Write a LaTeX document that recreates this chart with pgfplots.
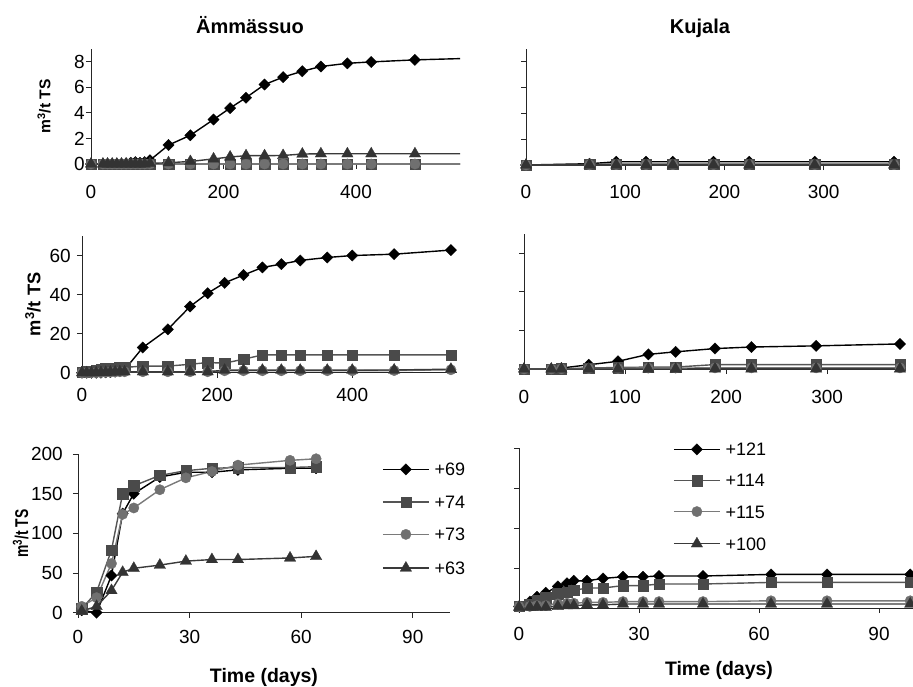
\documentclass[border=0pt]{standalone}
\usepackage{fontspec}
\setmainfont{Liberation Sans}
\usepackage{pgfplots}
\usepackage{pgfplotstable}
\pgfplotsset{compat=1.18}

\definecolor{fS}{HTML}{4A4A4A}
\definecolor{lS}{HTML}{555555}
\definecolor{fC}{HTML}{707070}
\definecolor{lC}{HTML}{7A7A7A}
\definecolor{fT}{HTML}{333333}
\definecolor{lT}{HTML}{3A3A3A}
\definecolor{ax}{HTML}{262626}

% Ämmässuo, long-term run (upper panel)
\pgfplotstableread{
day dia sq ci tri
0   0    0 0 0
18  0    0 0 0
25  0    0 0 0
32  0    0 0 0
39  0    0 0 0
46  0    0 0 0
53  0.05 0 0 0
60  0.1  0 0 0
67  0.15 0 0 0
74  0.1  0 0 0
81  0.15 0 0 0
89  0.3  0 0 0.05
117 1.48 0 0 0.1
150 2.25 0 0 0.2
185 3.48 0 0 0.4
210 4.38 0 0 0.55
234 5.19 0 0 0.65
262 6.22 0 0 0.65
290 6.8  0 0 0.67
319 7.26 0 0 0.78
347 7.63 0 0 0.8
387 7.88 0 0 0.8
423 7.99 0 0 0.8
489 8.15 0 0 0.8
600 8.31 0 0 0.8
}\amA

% Kujala, long-term run (upper panel)
\pgfplotstableread{
day dia sq ci tri
0   0    0    0    0
64  0.1  0.05 0.02 0
91  0.25 0.08 0.03 0
121 0.25 0.08 0.03 0
148 0.25 0.08 0.03 0
189 0.25 0.08 0.03 0
225 0.25 0.08 0.03 0
291 0.25 0.08 0.03 0
371 0.25 0.08 0.03 0
}\kuA

% Ämmässuo, long-term run (middle panel)
\pgfplotstableread{
day dia sq ci tri
0   0    0.3 0   0
7   0    0.5 0   0
14  0    0.8 0   0
21  0    1.0 0   0
28  0    1.5 0.1 0.1
35  0.2  2.0 0.2 0.2
42  0.3  2.0 0.3 0.3
49  0.5  2.3 0.4 0.4
56  0.8  2.5 0.5 0.5
63  1.5  2.7 0.5 0.5
90  12.9 3.4 0.5 0.5
127 22.2 3.4 0.5 0.5
160 33.9 4.3 0.5 0.5
186 40.7 5.2 0.5 0.5
211 46.0 4.9 1.0 1.3
239 50.0 6.9 1.0 1.3
267 53.9 9.1 1.0 1.3
295 55.6 9.1 1.0 1.3
323 57.5 9.1 1.0 1.3
363 59.0 9.1 1.0 1.3
400 60.0 9.1 1.0 1.3
462 60.7 9.1 1.1 1.4
546 62.8 9.1 1.5 1.8
}\amB

% Kujala, long-term run (middle panel)
\pgfplotstableread{
day dia sq ci tri
0   0    0   0   0
27  0    0   0   0
37  0.5  0.2 0.1 0
64  2.2  0.5 0.2 0
93  4.0  0.8 0.3 0
123 7.6  1.0 0.5 0
150 8.9  1.0 0.5 0
189 10.6 2.3 0.6 0.1
225 11.4 2.3 0.6 0.1
289 12.0 2.3 0.6 0.1
372 13.0 2.3 0.6 0.1
}\kuB

% Ämmässuo, batch assay (lower panel)
\pgfplotstableread{
day dia sq ci tri
1  3   5   8   2
5  0   26  19  8
9  47  79  62  28
12 125 150 124 51
15 150 160 132 56
22 171 173 155 60
29 177 179 170 65
36 177 182 178 67
43 180 183 186 67
57 182 183 192 69
64 182 184 194 71
}\amC

% Kujala, batch assay (lower panel)
\pgfplotstableread{
day  dia sq ci tri
0    2   2  2  1
2.7  8   5  2  1
4.5  14  9  3  1
6.7  19  13 3  1
9.7  27  18 5  2
12   31  20 6  3
13.7 34  22 6  3
17   34  25 7  4
21   37  25 7  4
26   39  28 8  5
31   39  28 8  5
35   40  30 8  5
46   40  30 8  5
63   42  32 9  5
77   42  32 9  5
97.8 42  32 9  5
}\kuC

\pgfplotsset{
  panel/.style={
    scale only axis, anchor=south west,
    axis x line*=bottom, axis y line*=left,
    axis line style={-, line width=0.9pt, ax},
    tick align=outside, major tick length=5pt,
    tick style={line width=0.9pt, ax},
    ticklabel style={font=\fontsize{19}{22}\selectfont, inner sep=0pt},
    /pgf/number format/assume math mode=true,
    xmin=0, ymin=0,
    ylabel={m\textsuperscript{3}/t TS},
    legend image code/.code={%
      \draw[mark repeat=2,mark phase=2,##1] plot coordinates {(0pt,2.5pt) (23pt,2.5pt) (46pt,2.5pt)};},
  },
  sD/.style={black, line width=1.4pt, mark=square*, mark size=4pt,
    mark options={rotate=45, solid, fill=black, draw=black, line width=0.3pt}},
  sS/.style={lS, line width=1.4pt, mark=square*, mark size=5.2pt,
    mark options={solid, fill=fS, draw=fS, line width=0.3pt}},
  sC/.style={lC, line width=1.4pt, mark=*, mark size=5.2pt,
    mark options={solid, fill=fC, draw=fC, line width=0.3pt}},
  sT/.style={lT, line width=1.4pt, mark=triangle*, mark size=6.6pt,
    mark options={solid, fill=fT, draw=fT, line width=0.3pt}},
  lgd/.style={legend style={draw=none, fill=none, inner sep=0pt,
    row sep=#1, column sep=5pt, font=\fontsize{18}{20}\selectfont,
    nodes={inner sep=0pt, text height=12pt, text depth=4pt},
    cells={anchor=west}}},
}

\begin{document}
\begin{tikzpicture}
\useasboundingbox (0pt,0pt) rectangle (913pt,-686pt);

\node[anchor=base] at (250pt,-33pt) {\bfseries\fontsize{20}{24}\selectfont Ämmässuo};
\node[anchor=base] at (700pt,-33pt) {\bfseries\fontsize{20}{24}\selectfont Kujala};

% upper left
\begin{axis}[panel, at={(91pt,-164pt)}, width=369pt, height=115pt,
  xmax=557, ymax=9, xtick={0,200,400}, ytick={0,2,4,6,8},
  xticklabel style={yshift=-16pt}, yticklabel style={xshift=-1pt},
  every axis y label/.style={at={(axis description cs:-0.1274,0.5)}, rotate=90, anchor=center,
    font=\bfseries\fontsize{15.6}{18}\selectfont}]
\addplot[sD] table[x=day,y=dia] {\amA};
\addplot[sS] table[x=day,y=sq] {\amA};
\addplot[sC] table[x=day,y=ci] {\amA};
\addplot[sT] table[x=day,y=tri] {\amA};
\end{axis}

% upper right
\begin{axis}[panel, at={(526pt,-165pt)}, width=372pt, height=116pt,
  xmax=375, ymax=9, xtick={0,100,200,300}, ytick={0,2,4,6,8}, yticklabels={},
  ylabel={}, xticklabel style={yshift=-15pt}]
\addplot[sD] table[x=day,y=dia] {\kuA};
\addplot[sS] table[x=day,y=sq] {\kuA};
\addplot[sC] table[x=day,y=ci] {\kuA};
\addplot[sT] table[x=day,y=tri] {\kuA};
\end{axis}

% middle left
\begin{axis}[panel, at={(82pt,-372.7pt)}, width=375pt, height=136.7pt,
  xmax=555, ymax=70, xtick={0,200,400}, ytick={0,20,40,60},
  xticklabel style={yshift=-10pt}, yticklabel style={xshift=-6pt},
  every axis y label/.style={at={(axis description cs:-0.1307,0.5)}, rotate=90, anchor=center,
    font=\bfseries\fontsize{18.3}{21}\selectfont}]
\addplot[sD] table[x=day,y=dia] {\amB};
\addplot[sS] table[x=day,y=sq] {\amB};
\addplot[sC] table[x=day,y=ci] {\amB};
\addplot[sT] table[x=day,y=tri] {\amB};
\end{axis}

% middle right
\begin{axis}[panel, at={(524pt,-369pt)}, width=381pt, height=135pt,
  xmax=377, ymax=70, xtick={0,100,200,300}, ytick={0,20,40,60}, yticklabels={},
  ylabel={}, xticklabel style={yshift=-16pt}]
\addplot[sD] table[x=day,y=dia] {\kuB};
\addplot[sS] table[x=day,y=sq] {\kuB};
\addplot[sC] table[x=day,y=ci] {\kuB};
\addplot[sT] table[x=day,y=tri] {\kuB};
\end{axis}

% lower left
\begin{axis}[panel, at={(78pt,-612.7pt)}, width=372pt, height=158.7pt,
  xmax=100, ymax=200, xtick={0,30,60,90}, ytick={0,50,100,150,200},
  xticklabel style={yshift=-12pt}, yticklabel style={xshift=-10pt},
  ylabel={\scalebox{0.75}[1]{m\textsuperscript{3}/t TS}},
  every axis y label/.style={at={(axis description cs:-0.154,0.5)}, rotate=90, anchor=center,
    font=\bfseries\fontsize{18.5}{22}\selectfont},
  xlabel={Time (days)},
  every axis x label/.style={at={(axis description cs:0.5,-0.405)}, anchor=center,
    font=\bfseries\fontsize{19.5}{22}\selectfont},
  lgd=16.5pt, legend style={at={(rel axis cs:0.8172,0.940)}, anchor=north west}]
\addplot[sD] table[x=day,y=dia] {\amC}; \addlegendentry{+69}
\addplot[sS] table[x=day,y=sq] {\amC}; \addlegendentry{+74}
\addplot[sC] table[x=day,y=ci] {\amC}; \addlegendentry{+73}
\addplot[sT] table[x=day,y=tri] {\amC}; \addlegendentry{+63}
\end{axis}

% lower right
\begin{axis}[panel, at={(519pt,-608pt)}, width=400pt, height=160pt,
  xmax=100, ymax=200, xtick={0,30,60,90}, ytick={0,50,100,150,200}, yticklabels={},
  ylabel={}, xticklabel style={yshift=-14pt},
  xlabel={Time (days)},
  every axis x label/.style={at={(axis description cs:0.5,-0.3875)}, anchor=center,
    font=\bfseries\fontsize{19.5}{22}\selectfont},
  lgd=15.1pt, legend style={at={(rel axis cs:0.385,1.028)}, anchor=north west}]
\addplot[sD] table[x=day,y=dia] {\kuC}; \addlegendentry{+121}
\addplot[sS] table[x=day,y=sq] {\kuC}; \addlegendentry{+114}
\addplot[sC] table[x=day,y=ci] {\kuC}; \addlegendentry{+115}
\addplot[sT] table[x=day,y=tri] {\kuC}; \addlegendentry{+100}
\end{axis}
\end{tikzpicture}
\end{document}
